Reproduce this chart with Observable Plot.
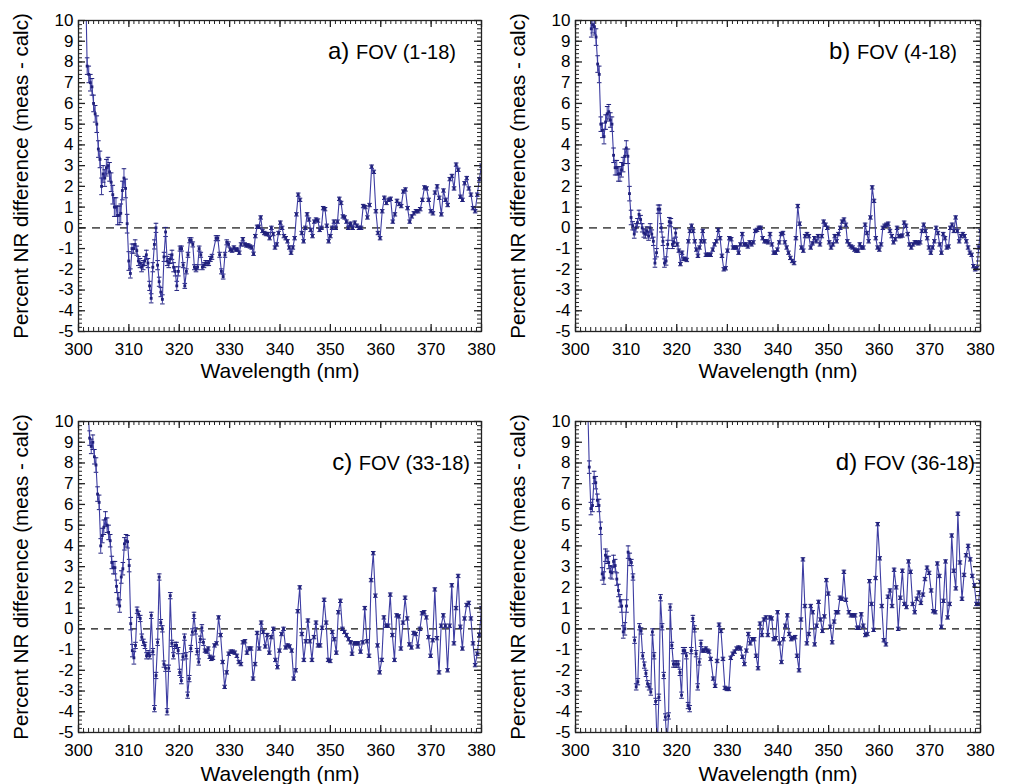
<!DOCTYPE html>
<html>
<head>
<meta charset="utf-8">
<script src="https://cdn.jsdelivr.net/npm/d3@7"></script>
<script src="https://cdn.jsdelivr.net/npm/@observablehq/plot@0.6"></script>
<style>
  html, body { margin: 0; padding: 0; background: #fff; }
  #chart { position: relative; width: 1015px; height: 784px; background: #fff; font-family: "Liberation Sans", Arial, Helvetica, sans-serif; }
  .lbl { position: absolute; font-size: 24px; line-height: 24px; white-space: nowrap; color: #000; }
  .lbl span { font-size: 20px; }
</style>
</head>
<body>
<div id="chart"></div>
<script>
// ---------- tick labels / texts ----------
const xTicks = [300, 310, 320, 330, 340, 350, 360, 370, 380];
const yTicks = [-5, -4, -3, -2, -1, 0, 1, 2, 3, 4, 5, 6, 7, 8, 9, 10];
const panelLetters = ["a)", "b)", "c)", "d)"];
const fovLabels = ["FOV (1-18)", "FOV (4-18)", "FOV (33-18)", "FOV (36-18)"];
const xLabel = "Wavelength (nm)";
const yLabel = "Percent NR difference (meas - calc)";

// ---------- panel a: FOV (1-18) ----------
const aRanges = [[301.4, 326.5], [327.3, 353.9], [354.0, 380.0]];
const aSeg1 = [12, 7.8, 7.4, 7.0, 6.8, 6.0, 5.5, 5.0, 3.8, 3.3, 2.0, 2.6, 2.4, 2.9, 3.0, 2.7, 2.2, 1.6, 1.0, 1.0, 0.6, 0.6, 0.7, 1.8, 2.4, 1.9, 0.2, -1.6, -2.2, -1.0, -1.0, -0.8, -1.1, -1.6, -1.7, -1.9, -1.8, -1.6, -1.3, -1.7, -2.8, -3.4, -1.9, -0.8, 0, -1.8, -2.6, -3.1, -3.45, -1.4, -0.2, -1.6, -1.7, -1.5, -1.3, -1.9, -2.1, -2.8, -2.1, -1.0, -1.0, -1.8, -2.8, -2.1, -1.3, -0.6, -0.6, -0.8, -1.9, -2.0, -1.9, -1.0, -1.3, -1.9, -1.8, -1.7, -1.7, -1.7, -1.5, -1.4];
const aSeg2 = [-0.5, -0.5, -1.3, -2.1, -2.35, -1.3, -0.7, -0.8, -1.05, -1.1, -0.95, -1.05, -1.05, -1.2, -0.8, -0.55, -0.8, -0.85, -0.85, -0.9, -0.95, -1.25, -0.4, 0.05, 0.05, 0.5, -0.15, -0.25, -0.3, -0.3, -0.5, 0, -0.3, -0.95, -0.8, -0.25, 0.25, 0, -0.4, -0.5, -0.65, -0.95, -1.2, -0.95, -0.5, 0.65, 1.6, 1.35, -0.25, -0.65, 0, 0.65, 0.4, -0.1, -0.4, 0.3, 0.4, 0.35, -0.1, 0, 0.95, 0.9, 0.1, -0.65, -0.4, 0, 0.3, 0, 0.3, 1.4, 1.2, 0.55, 0.5, 0.3, 0, 0.15];
const aSeg3 = [0.2, 0, 0.25, 0.1, 0, 0, 1.05, 1.0, 0.5, 1.1, 2.95, 2.7, 0.8, -0.25, -0.5, 0.8, 1.45, 1.2, 1.35, 1.4, 0.3, 0.65, 1.3, 1.15, 1.05, 1.75, 1.85, 0.95, 0.3, 0.55, 0.7, 0.8, 0.8, 0.9, 1.35, 1.95, 1.9, 1.35, 0.8, 0.7, 1.7, 2.0, 1.45, 0.65, 1.8, 1.35, 1.1, 2.35, 2.5, 1.9, 3.05, 2.8, 1.5, 1.35, 2.15, 2.4, 1.9, 1.6, 0.95, 0.8, 1.6, 2.35, 3.0];
const aErr = [[306, 0.4], [310, 0.45], [320, 0.22], [330, 0.12], [381, 0.08]];

// ---------- panel b: FOV (4-18) ----------
const bRanges = [[302.8, 326.7], [327.1, 353.4], [353.7, 380.0]];
const bSeg1 = [12, 9.6, 9.8, 9.7, 9.2, 7.9, 7.4, 5.0, 4.7, 4.4, 5.1, 5.5, 5.6, 5.2, 5.0, 3.5, 2.9, 2.9, 2.6, 2.6, 2.8, 3.05, 3.45, 3.85, 3.45, 1.65, 0.5, 0.1, -0.3, 0, 0.25, 0.65, 0.4, 0, -0.25, -0.3, -0.15, -0.4, 0, -0.3, -0.65, -1.7, -1.2, 0.9, 0.9, 0, -0.65, -1.7, -1.6, -0.8, 0.3, 0.25, -0.8, -0.7, -0.25, -0.8, -1.1, -1.75, -1.2, -1.5, -1.5, -1.55, -0.65, -0.15, 0.1, -0.15, -0.65, -1.05, -1.35, -0.95, -0.65, -0.15, -0.65, -1.3, -1.3, -1.3, -1.3];
const bSeg2 = [-1.05, -0.8, -0.65, -0.1, -0.5, -1.35, -2.0, -1.95, -1.1, -0.5, -0.55, -0.95, -0.95, -0.95, -1.2, -0.8, -0.3, -0.8, -0.8, -0.9, -0.7, -0.8, -0.7, -0.15, -0.1, 0, 0, -0.5, -0.65, -0.65, -0.7, -0.3, -0.8, -1.2, -1.2, -1.05, -0.7, -0.3, -0.25, -0.7, -0.95, -1.2, -1.45, -1.6, -1.7, -0.5, 1.05, 0.2, -0.95, -1.1, -0.4, -0.3, -0.4, -0.95, -0.75, -0.5, -0.65, -0.4, -0.8, -0.4, 0.3, 0.15, 0, -0.7, -0.95, -0.8, -0.4, -0.65, -0.3, 0, 0.3, 0.4, 0.15];
const bSeg3 = [-0.65, -0.8, -0.9, -0.95, -1.05, -1.1, -1.1, -0.8, -0.95, -0.95, 0.15, -0.25, -0.65, 0.5, 1.95, 1.3, -0.5, -0.95, -1.05, -0.8, 0, 0.1, 0.15, 0.2, -0.15, -0.4, -0.7, -0.55, 0, -0.4, -0.4, -0.37, 0.25, 0.1, -0.3, -0.8, -0.95, -0.8, -0.7, -0.7, -0.75, -0.7, -0.15, 0.15, -0.15, -0.5, -0.95, -1.2, -0.95, -0.65, 0, -0.25, -0.8, -1.2, -0.3, -0.5, -0.95, -0.9, 0, 0.15, -0.15, 0.5, -0.15, -0.65, -0.4, -0.3, -0.4, -0.65, -0.95, -1.2, -1.3, -1.85, -2.0, -1.95, -0.95, -0.15];
const bErr = [[305, 0.4], [311, 0.35], [320, 0.2], [381, 0.08]];

// ---------- panel c: FOV (33-18) ----------
const cRanges = [[301.9, 327.0], [327.4, 354.0], [354.3, 380.0]];
const cSeg1 = [10.5, 9.2, 8.8, 9.0, 8.3, 7.9, 6.5, 6.1, 4.0, 4.5, 4.9, 5.3, 5.0, 4.65, 4.25, 3.2, 2.95, 2.95, 2.05, 1.45, 1.1, 2.5, 2.9, 4.1, 4.25, 4.2, 3.05, 0.25, -1.05, -1.4, -0.8, 0.9, 0.7, 0.5, -0.4, -0.65, -0.8, -1.3, -1.2, -1.3, 0.65, -1.1, -3.85, -2.25, -0.65, 2.5, 0.3, 0, -1.7, -1.9, -4.0, -1.9, 1.6, -0.7, -1.3, -0.8, -0.8, -1.05, -2.1, -2.5, -1.35, -0.4, -1.3, -3.2, -2.4, -0.95, -0.15, 0.65, -0.1, -1.1, -1.6, -0.5, 0.05, -0.65, -1.05, -1.1, -0.95, -1.35, -1.45, -1.4, -0.8];
const cSeg2 = [-0.7, 0.55, -0.3, -1.6, -2.8, -2.1, -1.2, -1.1, -1.1, -1.15, -1.3, -1.6, -1.7, -0.65, -0.6, -1.15, -0.95, -0.95, -2.4, -1.7, -0.2, -0.95, 0.3, -0.15, -0.85, -0.3, -1.15, -0.4, 0, -1.5, -1.85, -1.05, -0.25, 0, -0.9, -0.8, -0.85, -1.05, -2.4, -2.0, 0.85, 2.0, -0.25, -1.5, -0.6, 0.4, -0.6, -1.5, -0.4, 0.3, -0.8, -0.8, 0.05, 1.4, 0.3, -1.5, -1.55, -0.15, -0.5, -1.15, 0.8, 1.35, 0, -0.15, -0.3, -0.5, -0.65];
const cSeg3 = [-1.2, -0.7, -0.7, -0.7, -1.1, -0.65, 1.0, -0.6, -1.3, 2.35, 3.65, 1.6, -0.8, -2.1, -1.5, 0.55, 0.15, 0.15, 1.65, -0.3, -1.5, 0.65, 0.6, -0.95, 0.3, 1.5, 0.5, -0.75, -0.9, -0.2, -0.25, -0.85, 0, 0.75, 0.8, 0.55, -0.4, -1.3, -0.55, 1.9, -0.45, -2.1, 0.15, 0.65, 0.15, -2.0, 0.15, 2.1, -0.7, 1.0, 2.55, 0.1, -0.95, 0.5, 1.15, 1.25, 0.5, -0.7, -1.75, -1.2, -0.3, 1.0];
const cErr = [[306, 0.35], [311, 0.3], [325, 0.15], [381, 0.08]];

// ---------- panel d: FOV (36-18) ----------
const dRanges = [[302.4, 326.7], [327.2, 353.4], [354.0, 380.0]];
const dSeg1 = [11, 7.8, 5.8, 5.95, 7.3, 7.05, 6.2, 5.95, 4.85, 2.65, 2.45, 3.55, 3.45, 3.2, 2.75, 2.7, 3.25, 3.05, 2.4, 1.85, 1.35, 1.1, -0.15, 0, 1.1, 3.7, 3.35, 3.2, 2.5, -0.55, -2.8, -2.55, 0.1, -0.1, -1.3, -1.75, -2.15, -2.65, -2.8, -3.05, -0.15, -1.3, -3.5, -5.8, -3.3, 1.5, 0.1, -2.25, -4.25, -5.6, -4.2, 1.05, -0.8, -1.7, -1.7, -1.7, -1.7, -2.1, -3.2, -1.05, -1.05, -1.3, -3.7, -3.85, -1.05, 0.5, 0, -1.2, -2.8, -1.6, -0.7, -1.05, -1.05, -0.95, -1.05, -1.1, -1.45];
const dSeg2 = [-2.4, -2.75, -1.55, 0.2, -0.1, -1.45, -2.85, -2.9, -2.9, -1.4, -1.2, -1.1, -0.95, -0.9, -0.95, -1.35, -1.7, -1.05, -0.25, -0.7, -0.5, -0.5, -1.3, -1.9, 0.25, -0.3, 0.45, 0.55, -0.3, 0.55, 0.5, -0.5, -0.45, 0.8, -0.7, -1.6, -0.5, 0.15, 0.65, -0.25, -0.5, -0.45, -0.4, -1.3, -2.0, 0.45, 3.35, 1.1, -0.7, -0.25, 1.1, 0.8, -0.75, 0.15, 1.3, 0.45, -0.1, 0.6, 2.35, 1.7, 0.1, -0.65, 0.35, 0.8, 0.8, 1.5, 1.45, 2.75, 1.4];
const dSeg3 = [0.8, 0.65, 0.65, 0.65, 0.05, 0.05, 0.7, 0.15, -0.3, -0.25, 2.3, 1.2, -0.05, 2.45, 5.05, 3.4, 1.1, -0.55, -0.75, 1.55, 1.85, 1.1, 2.85, 2.0, 0, 1.5, 2.8, 1.2, 1.05, 3.25, 2.75, 1.2, 0.8, 1.45, 1.75, 1.25, 1.65, 2.4, 2.95, 2.7, 1.85, 0.85, 0.8, 3.15, 2.55, 0.1, 1.35, 3.25, 0.55, 1.2, 4.5, 2.8, 1.95, 5.55, 3.2, 1.45, 2.6, 3.55, 4.0, 3.35, 2.55, 2.1, 1.2, 1.2, 2.25];
const dErr = [[311, 0.3], [325, 0.15], [381, 0.08]];

// ---------- build ----------
function build(segs, ranges, errTable) {
  const out = [];
  segs.forEach((vals, k) => {
    const [s, e] = ranges[k];
    const n = vals.length;
    vals.forEach((v, i) => {
      const wl = s + (n > 1 ? i * (e - s) / (n - 1) : 0);
      const err = errTable.find(([w]) => wl < w)[1];
      out.push({wl, v, err});
    });
  });
  return out;
}

const capSymbol = {
  draw(ctx, size) {
    const w = Math.sqrt(size / Math.PI);
    ctx.moveTo(-w, 0);
    ctx.lineTo(w, 0);
  }
};

const LINE = "#3d3da2";
const MARK = "#20207c";
const xMinor = d3.range(300, 381, 1);
const yMinor = d3.range(-5, 10.001, 0.2).map(d => Math.round(d * 10) / 10);

function panel(cfg) {
  const {data, width, height, ml, mr, mt, mb, xPad, xLabelDy, dash} = cfg;
  const pH = height - mt - mb;
  const pW = width - ml - mr;
  const majLen = 7, minLen = 4;
  return Plot.plot({
    width, height,
    marginLeft: ml, marginRight: mr, marginTop: mt, marginBottom: mb,
    x: {domain: [300, 380]},
    y: {domain: [-5, 10]},
    style: {fontFamily: '"Liberation Sans", Arial, Helvetica, sans-serif', fontSize: "17px", color: "#000", background: "transparent", overflow: "visible"},
    marks: [
      Plot.ruleY([0], {stroke: dash.color, strokeWidth: dash.width, strokeDasharray: dash.pattern}),
      Plot.ruleX(data, {x: "wl", y1: d => d.v - d.err, y2: d => d.v + d.err, stroke: LINE, strokeWidth: 1, clip: true}),
      Plot.dot(data, {x: "wl", y: d => d.v + d.err, symbol: capSymbol, r: 2.3, stroke: MARK, fill: "none", strokeWidth: 1, clip: true}),
      Plot.dot(data, {x: "wl", y: d => d.v - d.err, symbol: capSymbol, r: 2.3, stroke: MARK, fill: "none", strokeWidth: 1, clip: true}),
      Plot.line(data, {x: "wl", y: "v", stroke: LINE, strokeWidth: 1.1, clip: true}),
      Plot.dot(data, {x: "wl", y: "v", symbol: "square", r: 1.6, fill: MARK, stroke: "none", clip: true}),
      Plot.frame({stroke: "#222", strokeWidth: 1.3}),
      // inward ticks, all four sides
      Plot.tickX(xMinor, {x: d => d, insetTop: pH - minLen, stroke: "#222"}),
      Plot.tickX(xMinor, {x: d => d, insetBottom: pH - minLen, stroke: "#222"}),
      Plot.tickX(xTicks, {x: d => d, insetTop: pH - majLen, stroke: "#222", strokeWidth: 1.3}),
      Plot.tickX(xTicks, {x: d => d, insetBottom: pH - majLen, stroke: "#222", strokeWidth: 1.3}),
      Plot.tickY(yMinor, {y: d => d, insetRight: pW - minLen, stroke: "#222"}),
      Plot.tickY(yMinor, {y: d => d, insetLeft: pW - minLen, stroke: "#222"}),
      Plot.tickY(yTicks, {y: d => d, insetRight: pW - majLen, stroke: "#222", strokeWidth: 1.3}),
      Plot.tickY(yTicks, {y: d => d, insetLeft: pW - majLen, stroke: "#222", strokeWidth: 1.3}),
      Plot.axisX({ticks: xTicks, tickSize: 0, tickPadding: xPad, tickFormat: d => String(d), label: null}),
      Plot.axisY({ticks: yTicks, tickSize: 0, tickPadding: 5, tickFormat: d => String(d), label: null}),
      Plot.text([xLabel], {frameAnchor: "bottom", dy: xLabelDy, lineAnchor: "middle", textAnchor: "middle", fontSize: 21, fill: "#000"}),
      Plot.text([yLabel], {frameAnchor: "left", dx: -57, rotate: -90, textAnchor: "middle", lineAnchor: "middle", fontSize: 20.5, fill: "#000"})
    ]
  });
}

const dashGray = {color: "#5a5a5a", width: 1.6, pattern: "8,6"};
const dashBlack = {color: "#111", width: 1.2, pattern: "7,6"};

const layouts = [
  {left: 0,   top: 0,   width: 507, height: 392, ml: 78, mr: 26, mt: 20, mb: 61, xPad: 11, xLabelDy: 40, dash: dashGray,
   data: build([aSeg1, aSeg2, aSeg3], aRanges, aErr), lblRight: 559, lblTop: 39},
  {left: 497, top: 0,   width: 518, height: 392, ml: 78, mr: 35, mt: 20, mb: 61, xPad: 11, xLabelDy: 40, dash: dashGray,
   data: build([bSeg1, bSeg2, bSeg3], bRanges, bErr), lblRight: 58, lblTop: 39},
  {left: 0,   top: 401, width: 507, height: 383, ml: 78, mr: 26, mt: 20, mb: 52, xPad: 11, xLabelDy: 42, dash: dashBlack,
   data: build([cSeg1, cSeg2, cSeg3], cRanges, cErr), lblRight: 545, lblTop: 450},
  {left: 497, top: 401, width: 518, height: 383, ml: 78, mr: 35, mt: 20, mb: 52, xPad: 11, xLabelDy: 42, dash: dashBlack,
   data: build([dSeg1, dSeg2, dSeg3], dRanges, dErr), lblRight: 40, lblTop: 450}
];

const root = document.getElementById("chart");
layouts.forEach((cfg, i) => {
  const svg = panel(cfg);
  svg.style.position = "absolute";
  svg.style.left = cfg.left + "px";
  svg.style.top = cfg.top + "px";
  svg.style.maxWidth = "none";
  root.appendChild(svg);
  const lbl = document.createElement("div");
  lbl.className = "lbl";
  lbl.style.right = cfg.lblRight + "px";
  lbl.style.top = cfg.lblTop + "px";
  lbl.appendChild(document.createTextNode(panelLetters[i] + " "));
  const s = document.createElement("span");
  s.textContent = fovLabels[i];
  lbl.appendChild(s);
  root.appendChild(lbl);
});
</script>
</body>
</html>
